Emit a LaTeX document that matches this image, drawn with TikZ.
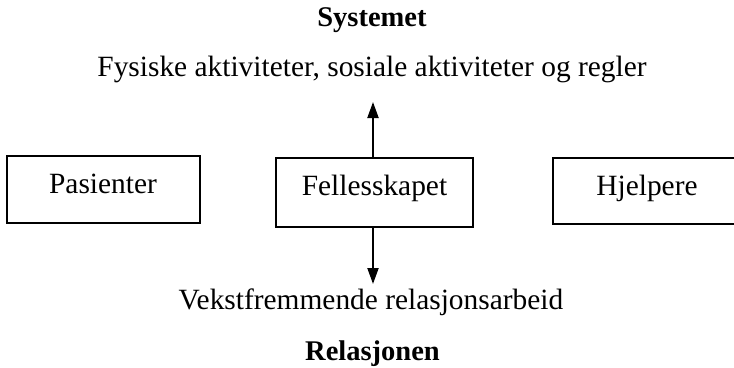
\documentclass[tikz,border=0pt]{standalone}
\usepackage{fontspec}
\setmainfont{Liberation Serif}
\usetikzlibrary{arrows.meta}
\begin{document}
\begin{tikzpicture}[x=1pt,y=-1pt,
  txt/.style={anchor=base,inner sep=0pt,font=\fontsize{29.4}{35}\selectfont},
  btxt/.style={txt,font=\fontsize{28.5}{34}\selectfont\bfseries},
  boxx/.style={draw,line width=2pt},
  arr/.style={line width=2pt,-{Triangle[length=16pt,width=11pt]}}]
\useasboundingbox (0,0) rectangle (734,367);
\clip (0,0) rectangle (734,367);
\node[btxt] (sys) at (372,26) {Systemet};
\node[txt] (fys) at (372,76) {Fysiske aktiviteter, sosiale aktiviteter og regler};
\draw[boxx] (7,156) rectangle (200,223);
\node[txt] (pas) at (103,193) {Pasienter};
\draw[boxx] (276,158) rectangle (473,227);
\node[inner sep=0pt,minimum width=197pt,minimum height=69pt] (fel) at (374.5,192.5) {};
\node[txt] (feltxt) at (374.5,195) {Fellesskapet};
\draw[boxx] (553,158) rectangle (760,224);
\node[txt] (hje) at (647,195) {Hjelpere};
\coordinate (upt) at (373,102);
\coordinate (dnt) at (373,284);
\draw[arr] (fel.north -| upt) -- (upt);
\draw[arr] (fel.south -| dnt) -- (dnt);
\node[txt] (vek) at (371,309) {Vekstfremmende relasjonsarbeid};
\node[btxt] (rel) at (372.5,360) {Relasjonen};
\end{tikzpicture}
\end{document}
